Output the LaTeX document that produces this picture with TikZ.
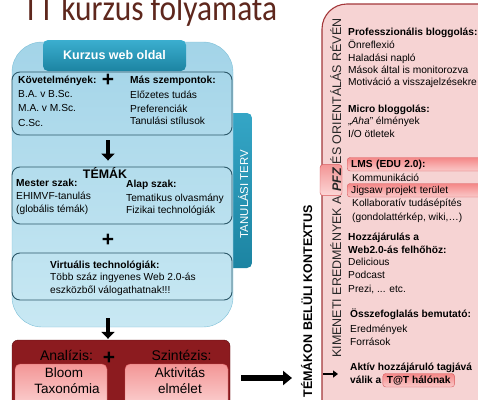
\documentclass[tikz,border=0pt]{standalone}
\usepackage{fontspec}
\setmainfont{Liberation Sans}
\newfontfamily\titlefont[FakeStretch=0.86]{Carlito}
\usetikzlibrary{arrows.meta}
\definecolor{titlebrown}{HTML}{5E271D}
\definecolor{planA}{HTML}{A3D4E8}
\definecolor{planB}{HTML}{C8E8F3}
\definecolor{planedge}{HTML}{7DBFD7}
\definecolor{tealA}{HTML}{3BAECF}
\definecolor{tealB}{HTML}{1C84A2}
\definecolor{boxedge}{HTML}{2C5869}
\definecolor{synthred}{HTML}{8C1B1F}
\definecolor{synthedge}{HTML}{5C0F12}
\definecolor{pinkA}{HTML}{F39696}
\definecolor{pinkB}{HTML}{FCD6D6}
\definecolor{pinkedge}{HTML}{D9585C}
\definecolor{outfill}{HTML}{F6D3D3}
\definecolor{outedge}{HTML}{A3373A}
\tikzset{txt/.style={inner sep=0pt,anchor=base west,font=\fontsize{10.2}{12}\selectfont},
         head/.style={txt,font=\fontsize{10.2}{12}\selectfont\bfseries},
         big/.style={inner sep=0pt,anchor=base,font=\fontsize{13.5}{13.5}\selectfont},
         plus/.style={inner sep=0pt,font=\fontsize{21}{21}\selectfont\bfseries},
         planbox/.style={draw=planedge,top color=planA,bottom color=planB,rounded corners=30pt},
         tabbox/.style={top color=tealA!80!tealB,bottom color=tealB,rounded corners=5pt},
         headbox/.style={top color=tealA,bottom color=tealB,rounded corners=5pt,text=white,font=\fontsize{12.5}{12.5}\selectfont\bfseries},
         topicbox/.style={draw=boxedge,line width=.9pt,rounded corners=8pt,minimum width=220pt},
         synthbox/.style={draw=synthedge,fill=synthred,rounded corners=6pt},
         pinkbox/.style={draw=pinkedge,top color=pinkA,bottom color=pinkB,rounded corners=5pt},
         outbox/.style={draw=outedge,line width=1.1pt,fill=outfill,rounded corners=25pt},
         hilite/.style={txt,draw=pinkedge,top color=pinkA!90!red,bottom color=pinkB!80!pinkA,rounded corners=3pt,inner xsep=4pt,inner ysep=1.5pt,text height=8pt,text depth=2.5pt},
         vert/.style={rotate=90,inner sep=0pt,anchor=base west,text=black!85,font=\fontsize{12.5}{12.5}\selectfont},
         bigarrow/.style={line width=4pt,-{Triangle[length=7pt,width=13pt]}},
         widearrow/.style={line width=5.5pt,-{Triangle[length=9pt,width=14pt]}},
         thinarrow/.style={line width=1.8pt,-{Triangle[length=5pt,width=7pt]}},
        }
\begin{document}
\begin{tikzpicture}[x=1pt,y=-1pt]
        \useasboundingbox(0,0)rectangle(478,399);
        \clip(0,0)rectangle(478,399);
        \node[anchor=base west,inner sep=0pt,text=titlebrown,font=\titlefont\fontsize{36.5}{36.5}\selectfont](title)at(23,20.7){TT kurzus folyamata};

        \node[outbox,minimum width=198pt,minimum height=426pt](out)at(421,217){};
        \node[vert](kim)at(341,358){KIMENETI EREDMÉNYEK A};
        \node[vert,draw=pinkedge,top color=pinkA,bottom color=pinkB,rounded corners=3pt,inner xsep=3.5pt,minimum width=31pt,text height=21pt,text depth=1pt,font=\fontsize{12.5}{12.5}\selectfont\bfseries\itshape](pfz)at(kim.base east){PFZ};
        \node[vert](ori)at(pfz.base east){ÉS ORIENTÁLÁS RÉVÉN};

        \node[head](pb)at(348,35){Professzionális bloggolás:};
        \node[txt](p1)at(348,48){Önreflexió};
        \node[txt](p2)at(348,61){Haladási napló};
        \node[txt](p3)at(348,73){Mások által is monitorozva};
        \node[txt](p4)at(348,85){Motiváció a visszajelzésekre};
        \node[head](mb)at(348,112){Micro bloggolás:};
        \node[txt](m1)at(348,124){„\textit{Aha}” élmények};
        \node[txt](m2)at(348,137){I/O ötletek};
        \node[hilite,text width=140pt,font=\fontsize{10.2}{12}\selectfont\bfseries](lms)at(347,167){LMS (EDU 2.0):};
        \node[txt](l1)at(352,181){Kommunikáció};
        \node[hilite,text width=140pt](jig)at(347,193){Jigsaw projekt terület};
        \node[txt](l2)at(352,206){Kollaboratív tudásépítés};
        \node[txt](l3)at(352,220){(gondolattérkép, wiki,…)};
        \node[head](hz1)at(348,240){Hozzájárulás a};
        \node[head](hz2)at(348,253){Web2.0-ás felhőhöz:};
        \node[txt](h1)at(348,265){Delicious};
        \node[txt](h2)at(348,278){Podcast};
        \node[txt](h3)at(348,292){Prezi, ... etc.};
        \node[head](ob)at(350,317){Összefoglalás bemutató:};
        \node[txt](o1)at(350,332){Eredmények};
        \node[txt](o2)at(350,345){Források};
        \node[head](ak)at(350,370){Aktív hozzájáruló tagjává};
        \node[head](valik)at(350,383){válik a};
        \node[hilite,font=\fontsize{10.2}{12}\selectfont\bfseries](tat)at([xshift=1pt]valik.base east){T@T hálónak};
        \coordinate(akin)at(338,374);
        \draw[thinarrow]([xshift=-15pt]akin)--(akin);

        \node[rotate=90,anchor=base east,inner sep=0pt,font=\fontsize{12.5}{12.5}\selectfont\bfseries](ctx)at(312,205){TÉMÁKON BELÜLI KONTEXTUS};

        \node[tabbox,minimum width=26pt,minimum height=155pt](tab)at(239,190.5){};
        \node[planbox,minimum width=221pt,minimum height=285pt](plan)at(122.5,184.5){};
        \node[rotate=90,anchor=base,inner sep=0pt,text=white,font=\fontsize{11.4}{11.4}\selectfont](terv)at(248,194){TANULÁSI TERV};
        \node[headbox,minimum width=143pt,minimum height=31pt](web)at(114.5,55.5){Kurzus web oldal};
        \node[topicbox,minimum height=63pt](req)at(122,103.5){};
        \node[topicbox,minimum height=57pt](topics)at(122,195.5){};
        \node[topicbox,minimum height=47pt](virt)at(122,276.5){};

        \node[head](kov)at(18,83){Követelmények:};
        \node[txt](ba)at(18,97){B.A. v B.Sc.};
        \node[txt](ma)at(18,111){M.A. v M.Sc.};
        \node[txt](cs)at(18,126){C.Sc.};
        \node[head](mas)at(130,83){Más szempontok:};
        \node[txt](elo)at(130,98){Előzetes tudás};
        \node[txt](pref)at(130,112){Preferenciák};
        \node[txt](stil)at(130,124){Tanulási stílusok};
        \node[plus](plus1)at(108,80){+};

        \node[inner sep=0pt,anchor=base,font=\fontsize{12.4}{12.4}\selectfont\bfseries](temak)at(105,178){TÉMÁK};
        \node[head](mester)at(16,186){Mester szak:};
        \node[txt](ehim)at(16,199){EHIMVF-tanulás};
        \node[txt](glob)at(16,212){(globális témák)};
        \node[head](alap)at(126,187){Alap szak:};
        \node[txt](tema)at(126,201){Tematikus olvasmány};
        \node[txt](fiz)at(126,213){Fizikai technológiák};
        \node[plus](plus2)at(108,240){+};
        \node[head](vt)at(50,268){Virtuális technológiák:};
        \node[txt](tobb)at(50,280){Több száz ingyenes Web 2.0-ás};
        \node[txt](eszk)at(50,293){eszközből válogathatnak!!!};

        \node[synthbox,minimum width=218pt,minimum height=70pt](synth)at(121,375){};
        \node[pinkbox,minimum width=92pt,minimum height=46pt](bloom)at(61,387){};
        \node[pinkbox,minimum width=103pt,minimum height=46pt](activ)at(176.5,387){};
        \node[big,font=\fontsize{14}{14}\selectfont](ana)at(66.5,360){Analízis:};
        \node[big,font=\fontsize{14}{14}\selectfont](szin)at(181.5,360){Szintézis:};
        \node[plus](plus3)at(109,358){+};
        \node[big](bl1)at(64,377){Bloom};
        \node[big](bl2)at(67,393){Taxonómia};
        \node[big](ac1)at(180,377){Aktivitás};
        \node[big](ac2)at(180,393){elmélet};

        \draw[bigarrow,shorten <=5pt,shorten >=6pt]([xshift=-14pt]req.south)--([xshift=-14pt]topics.north);
        \draw[bigarrow,shorten <=-9pt,shorten >=1pt]([xshift=-14.5pt]plan.south)--([xshift=-13pt]synth.north);
        \coordinate(ctxin)at(292,378);
        \draw[widearrow,shorten <=11pt](synth.east|-ctxin)--(ctxin);
    \end{tikzpicture}
\end{document}
